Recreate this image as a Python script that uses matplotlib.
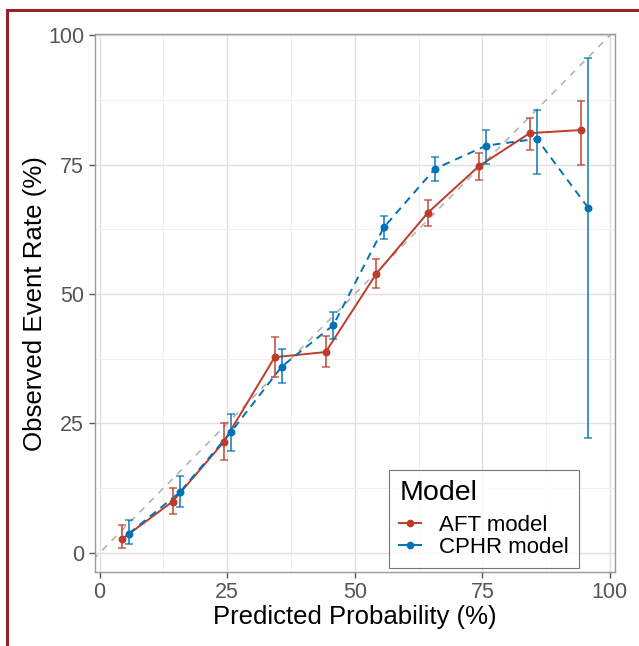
import matplotlib.pyplot as plt
from matplotlib.patches import Rectangle
from matplotlib.lines import Line2D

plt.rcParams['font.family'] = ['Liberation Sans', 'DejaVu Sans']

# Daten
aft_x = [4.3, 14.3, 24.3, 34.3, 44.3, 54.2, 64.3, 74.3, 84.3, 94.3]
aft_y = [2.6, 9.9, 21.4, 37.8, 38.8, 53.9, 65.7, 74.7, 81.1, 81.7]
aft_lo = [0.9, 7.5, 18.0, 34.0, 35.9, 51.2, 63.1, 72.0, 77.8, 74.9]
aft_hi = [5.3, 12.6, 25.1, 41.7, 41.9, 56.7, 68.2, 77.2, 84.0, 87.3]

cphr_x = [5.7, 15.7, 25.7, 35.7, 45.8, 55.7, 65.7, 75.8, 85.7, 95.8]
cphr_y = [3.7, 11.7, 23.3, 36.0, 44.0, 62.9, 74.2, 78.7, 80.0, 66.6]
cphr_lo = [1.8, 8.8, 19.7, 32.9, 41.4, 60.6, 71.8, 75.2, 73.3, 22.2]
cphr_hi = [6.3, 14.8, 26.8, 39.4, 46.5, 65.1, 76.5, 81.8, 85.6, 95.6]

ticks = [0, 25, 50, 75, 100]
red = '#BC3C29'
blue = '#0072B5'

fig = plt.figure(figsize=(6.39, 6.46), dpi=100)
ax = fig.add_axes([0.148, 0.1146, 0.8144, 0.8323])

# Gitter
ax.set_xticks(ticks)
ax.set_yticks(ticks)
ax.set_xticks([12.5, 37.5, 62.5, 87.5], minor=True)
ax.set_yticks([12.5, 37.5, 62.5, 87.5], minor=True)
ax.grid(True, which='major', color='#E0E0E0', linewidth=1.0)
ax.grid(True, which='minor', color='#F0F0F0', linewidth=0.7)
ax.set_axisbelow(True)

# Diagonale
ax.plot([-5, 105], [-5, 105], linestyle=(0, (4, 4)), color='#B3B3B3', linewidth=1.2, zorder=1)

# Linien
ax.plot(aft_x, aft_y, color=red, linewidth=1.4, zorder=3)
ax.plot(cphr_x, cphr_y, color=blue, linewidth=1.4, linestyle=(0, (4, 3)), zorder=3)

# Fehlerbalken
ax.errorbar(aft_x, aft_y, yerr=[[y - l for y, l in zip(aft_y, aft_lo)], [h - y for y, h in zip(aft_y, aft_hi)]],
            fmt='none', ecolor=red, alpha=0.75, elinewidth=1.4, capsize=3, capthick=1.2, zorder=4)
ax.errorbar(cphr_x, cphr_y, yerr=[[y - l for y, l in zip(cphr_y, cphr_lo)], [h - y for y, h in zip(cphr_y, cphr_hi)]],
            fmt='none', ecolor=blue, alpha=0.75, elinewidth=1.4, capsize=3, capthick=1.2, zorder=4)

# Punkte
ax.scatter(aft_x, aft_y, color=red, s=22, zorder=5)
ax.scatter(cphr_x, cphr_y, color=blue, s=22, zorder=5)

ax.set_xlim(-1.0, 101.0)
ax.set_ylim(-3.7, 100.2)

for s in ax.spines.values():
    s.set_color('#9A9A9A')
    s.set_linewidth(1.0)
ax.tick_params(axis='both', which='major', colors='#555555', labelcolor='#555555', labelsize=15.5,
               length=4, width=1)
ax.tick_params(axis='both', which='minor', length=0)

ax.set_xlabel('Predicted Probability (%)', fontsize=18.5, labelpad=1)
ax.set_ylabel('Observed Event Rate (%)', fontsize=18.6, labelpad=1)

# Legende
handles = [Line2D([0], [0], color=red, marker='o', markersize=4.5, linewidth=1.4),
           Line2D([0], [0], color=blue, marker='o', markersize=4.5, linewidth=1.4)]
leg = ax.legend(handles, ['AFT model', 'CPHR model'], title='Model', loc='lower right',
                bbox_to_anchor=(0.952, -0.013), fontsize=16, title_fontsize=20.5, frameon=True,
                fancybox=False, edgecolor='#555555', handlelength=1.0, handletextpad=0.8,
                borderpad=0.45, labelspacing=0.05)
leg._legend_box.align = 'left'
leg._legend_box.sep = 6
leg.get_frame().set_linewidth(0.8)

# Rahmen
fig.patches.append(Rectangle((7 / 639, -0.1), 1.2, 1 - 10 / 646 + 0.1, transform=fig.transFigure,
                             fill=False, edgecolor='#9B1F24', linewidth=2.2))

fig.savefig('out.png', dpi=100)
